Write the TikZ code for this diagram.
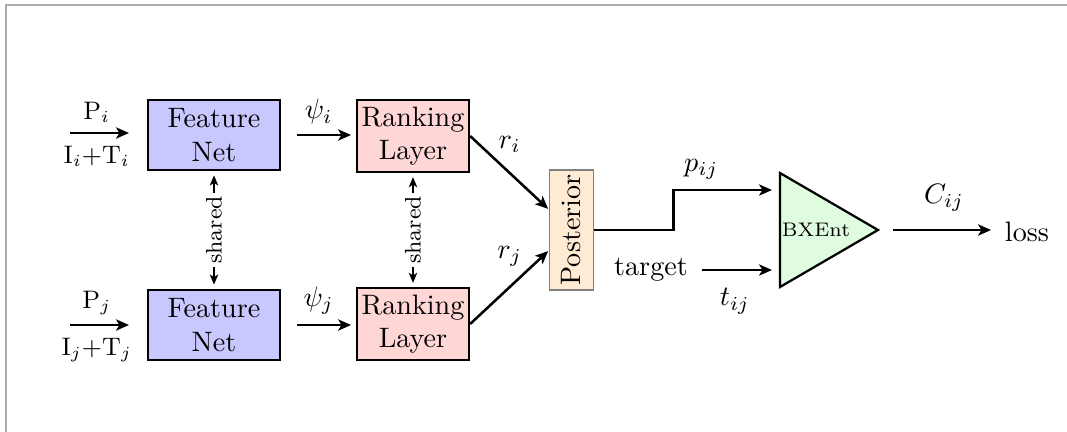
\documentclass[tikz,border=0pt]{standalone}
\usepackage{amsmath, amssymb}
\usepackage{tikz}
\usetikzlibrary{positioning}
\usetikzlibrary{calc}
\usetikzlibrary{arrows.meta}
\definecolor{featblue}{RGB}{200,200,255}
\definecolor{rankred}{RGB}{255,214,214}
\definecolor{postorange}{RGB}{255,234,212}
\definecolor{xentgreen}{RGB}{224,252,224}
\definecolor{framegray}{RGB}{170,170,170}

\tikzset{
  featbox/.style={draw, line width=1pt, fill=featblue, minimum width=1.65cm, minimum height=0.875cm, align=center, inner sep=0pt},
  rankbox/.style={draw, thick, fill=rankred, minimum width=1.4cm, minimum height=0.9cm, align=center, inner sep=0pt},
  arr/.style={-{Stealth[length=4.6pt,width=4pt,inset=1.2pt]}, line width=0.9pt},
  sharedarr/.style={{Stealth[length=3.6pt,width=3pt,inset=1pt]}-{Stealth[length=3.6pt,width=3pt,inset=1pt]}, thick, shorten <=0.05cm, shorten >=0.05cm},
}

\begin{document}
\begin{tikzpicture}[x=0.0125cm, y=-0.0125cm]
    \useasboundingbox (0,0) rectangle (1067,432);
    \draw[framegray, line width=0.7pt] (6,432) -- (6,5) -- (1067,5);

    % boxes
    \node[featbox] (fn1) at (214,135) {Feature\\Net};
    \node[featbox] (fn2) at (214,325) {Feature\\Net};
    \node[rankbox] (rl1) at (413,136) {Ranking\\Layer};
    \node[rankbox] (rl2) at (413,324) {Ranking\\Layer};
    \node[draw=gray, fill=postorange, minimum width=0.54cm, minimum height=1.5cm, inner sep=0pt] (post) at (571.5,230) {\rotatebox{90}{Posterior}};

    \draw[thick, fill=xentgreen] (780,173) -- (878,230) -- (780,287) -- cycle;
    \node[font=\scriptsize] (bxent) at (816,230) {BXEnt};
    \coordinate (bxp) at (772,190);
    \coordinate (bxt) at (772,270);
    \coordinate (bxo) at (893,230);

    \coordinate (in1) at (70,133);
    \coordinate (in2) at (70,325);
    \node (target) at (651,270) {target};
    \node (loss) at (1027,232) {loss};

    % inputs
    \draw[arr, shorten >=0.22cm] (in1) -- (in1 -| fn1.west)
        node[pos=0.35, above, font=\small] {P$_i$}
        node[pos=0.35, below=1pt, font=\small] {I$_i$+T$_i$};
    \draw[arr, shorten >=0.22cm] (in2) -- (in2 -| fn2.west)
        node[pos=0.35, above, font=\small] {P$_j$}
        node[pos=0.35, below=1pt, font=\small] {I$_j$+T$_j$};

    \draw[arr, shorten <=0.2cm, shorten >=0.06cm] (fn1.east) -- (fn1.east -| rl1.west) node[midway, above] {$\psi_i$};
    \draw[arr, shorten <=0.2cm, shorten >=0.06cm] (fn2.east) -- (fn2.east -| rl2.west) node[midway, above] {$\psi_j$};

    \draw[sharedarr] (fn2.north) -- (fn1.south) node[midway, sloped, fill=white, inner sep=1pt, font=\footnotesize] {shared};
    \draw[sharedarr] (rl2.north) -- (rl1.south) node[midway, sloped, fill=white, inner sep=1pt, font=\footnotesize] {shared};

    \draw[arr, shorten >=0.02cm] (rl1.east) -- ([yshift=0.25cm]post.west) node[midway, above=0.12cm] {$r_i$};
    \draw[arr, shorten >=0.02cm] (rl2.east) -- ([yshift=-0.25cm]post.west) node[midway, above=0.12cm] {$r_j$};

    % posterior to cross entropy
    \draw[arr] (post.east) -- ++(80,0) |- node[pos=0.64, above] {$p_{ij}$} (bxp);
    \draw[arr, shorten <=0.05cm] (target.east) -- (bxt) node[midway, below=0.1cm] {$t_{ij}$};
    \draw[arr, shorten >=0.05cm] (bxo) -- (bxo -| loss.west) node[midway, above=0.1cm] {$C_{ij}$};
  \end{tikzpicture}
\end{document}
